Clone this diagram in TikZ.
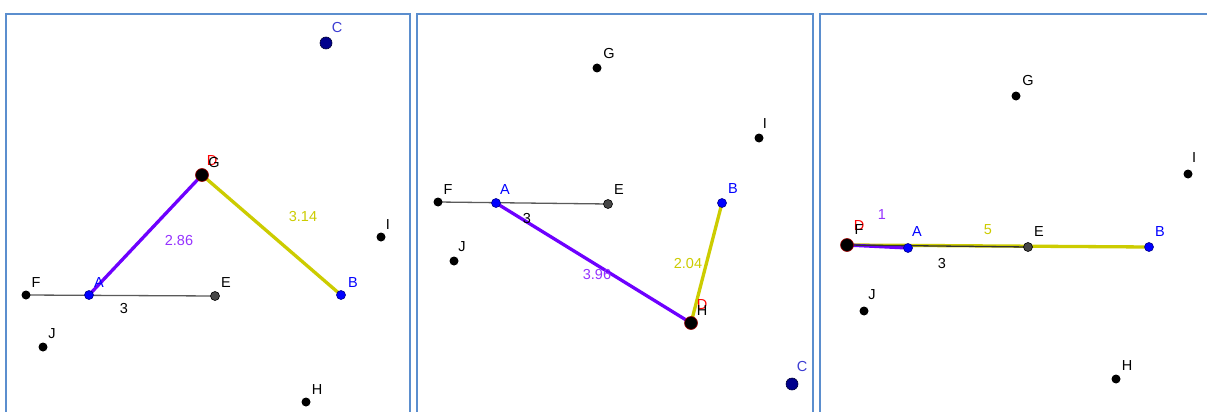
\documentclass[tikz,border=0pt]{standalone}
\usepackage{fontspec}
\setmainfont{Liberation Sans}
\definecolor{frame}{RGB}{91,142,206}
\definecolor{ptblue}{RGB}{0,0,255}
\definecolor{navy}{RGB}{0,0,140}
\definecolor{cblue}{RGB}{60,60,210}
\definecolor{purp}{RGB}{110,0,255}
\definecolor{purptxt}{RGB}{150,50,255}
\definecolor{yel}{RGB}{204,204,0}
\definecolor{segray}{RGB}{90,90,90}
\definecolor{egray}{RGB}{70,70,70}
\tikzset{
  blk/.style={circle,fill=black,inner sep=0pt,minimum size=9pt},
  gpt/.style={circle,fill=egray,draw=black,line width=0.6pt,inner sep=0pt,minimum size=9pt},
  bpt/.style={circle,fill=ptblue,draw=navy,line width=0.6pt,inner sep=0pt,minimum size=9pt},
  cpt/.style={circle,fill=navy,draw=black!60!navy,line width=0.6pt,inner sep=0pt,minimum size=12pt},
  dpt/.style={circle,fill=black,draw=red!60!black,line width=0.6pt,inner sep=0pt,minimum size=13pt},
  lbl/.style={inner sep=0pt,font=\fontsize{14.5}{14.5}\selectfont},
  frm/.style={draw=frame,line width=1.4pt},
  seg/.style={draw=segray,line width=1.3pt},
  pseg/.style={draw=purp,line width=3.3pt},
  yseg/.style={draw=yel,line width=3.3pt}
}
\begin{document}
\begin{tikzpicture}[x=1pt,y=-1pt]
\useasboundingbox (0,0) rectangle (1207,412);
\fill[white] (0,0) rectangle (1207,412);
% frames
\draw[frm] (6,420) -- (6,14) -- (410,14) -- (410,420);
\draw[frm] (417,420) -- (417,14) -- (813,14) -- (813,420);
\draw[frm] (820,420) -- (820,14) -- (1215,14);

% ---------------- Panel 1 ----------------
\coordinate (p1F) at (26,295);
\coordinate (p1A) at (89,295);
\coordinate (p1E) at (215,296);
\coordinate (p1D) at (202,175);
\coordinate (p1B) at (341,295);
\draw[seg] (p1F) -- (p1E);
\draw[yseg] (p1D) -- (p1B);
\draw[pseg] (p1A) -- (p1D);
\node[blk] (n1F) at (p1F) {};
\node[gpt] (n1E) at (p1E) {};
\node[bpt] (n1A) at (p1A) {};
\node[bpt] (n1B) at (p1B) {};
\node[dpt] (n1D) at (p1D) {};
\node[cpt] (n1C) at (326,43) {};
\node[blk] (n1I) at (381,237) {};
\node[blk] (n1J) at (43,347) {};
\node[blk] (n1H) at (306,402) {};
\node[lbl,text=cblue] (l1C) at (337,28) {C};
\node[lbl,text=red] (l1D) at (212,161) {D};
\node[lbl] (l1G) at (214,163) {G};
\node[lbl,text=ptblue] (l1A) at (99,283) {A};
\node[lbl] (l1F) at (36,283) {F};
\node[lbl] (l1E) at (226,283) {E};
\node[lbl,text=ptblue] (l1B) at (353,283) {B};
\node[lbl] (l1I) at (388,225) {I};
\node[lbl] (l1J) at (52,334) {J};
\node[lbl] (l1H) at (317,390) {H};
\node[lbl,text=purptxt] (l1ad) at (179,241) {2.86};
\node[lbl,text=yel] (l1db) at (303,217) {3.14};
\node[lbl] (l1fe) at (124,309) {3};

% ---------------- Panel 2 ----------------
\coordinate (p2F) at (438,202);
\coordinate (p2A) at (496,203);
\coordinate (p2E) at (608,204);
\coordinate (p2B) at (722,203);
\coordinate (p2D) at (691,323);
\draw[seg] (p2F) -- (p2E);
\draw[yseg] (p2D) -- (p2B);
\draw[pseg] (p2A) -- (p2D);
\node[blk] (n2F) at (p2F) {};
\node[gpt] (n2E) at (p2E) {};
\node[bpt] (n2A) at (p2A) {};
\node[bpt] (n2B) at (p2B) {};
\node[dpt] (n2D) at (p2D) {};
\node[blk] (n2G) at (597,68) {};
\node[blk] (n2I) at (759,138) {};
\node[blk] (n2J) at (454,261) {};
\node[cpt] (n2C) at (792,384) {};
\node[lbl] (l2G) at (609,54) {G};
\node[lbl] (l2I) at (765,124) {I};
\node[lbl] (l2F) at (448,190) {F};
\node[lbl,text=ptblue] (l2A) at (505,190) {A};
\node[lbl] (l2E) at (619,190) {E};
\node[lbl,text=ptblue] (l2B) at (733,189) {B};
\node[lbl] (l2J) at (462,247) {J};
\node[lbl,text=red] (l2D) at (702,305) {D};
\node[lbl] (l2H) at (702,311) {H};
\node[lbl,text=cblue] (l2C) at (802,367) {C};
\node[lbl] (l2fe) at (527,219) {3};
\node[lbl,text=purptxt] (l2ad) at (597,275) {3.96};
\node[lbl,text=yel] (l2db) at (688,264) {2.04};

% ---------------- Panel 3 ----------------
\coordinate (p3D) at (847,245);
\coordinate (p3A) at (908,248);
\coordinate (p3E) at (1028,247);
\coordinate (p3B) at (1149,247);
\draw[yseg] (p3D) -- (p3B);
\draw[pseg] (p3D) -- (p3A);
\draw[seg,draw=black!80] (p3D) -- (p3E);
\node[gpt] (n3E) at (p3E) {};
\node[bpt] (n3A) at (p3A) {};
\node[bpt] (n3B) at (p3B) {};
\node[dpt] (n3D) at (p3D) {};
\node[blk] (n3G) at (1016,96) {};
\node[blk] (n3I) at (1188,174) {};
\node[blk] (n3J) at (864,311) {};
\node[blk] (n3H) at (1116,379) {};
\node[lbl] (l3G) at (1028,81) {G};
\node[lbl] (l3I) at (1194,158) {I};
\node[lbl,text=red] (l3D) at (859,226) {D};
\node[lbl] (l3F) at (859,230) {F};
\node[lbl,text=purptxt] (l3da) at (882,215) {1};
\node[lbl,text=ptblue] (l3A) at (917,232) {A};
\node[lbl,text=yel] (l3db) at (988,230) {5};
\node[lbl] (l3E) at (1039,232) {E};
\node[lbl,text=ptblue] (l3B) at (1160,232) {B};
\node[lbl] (l3fe) at (942,264) {3};
\node[lbl] (l3J) at (872,295) {J};
\node[lbl] (l3H) at (1127,366) {H};
\end{tikzpicture}
\end{document}
